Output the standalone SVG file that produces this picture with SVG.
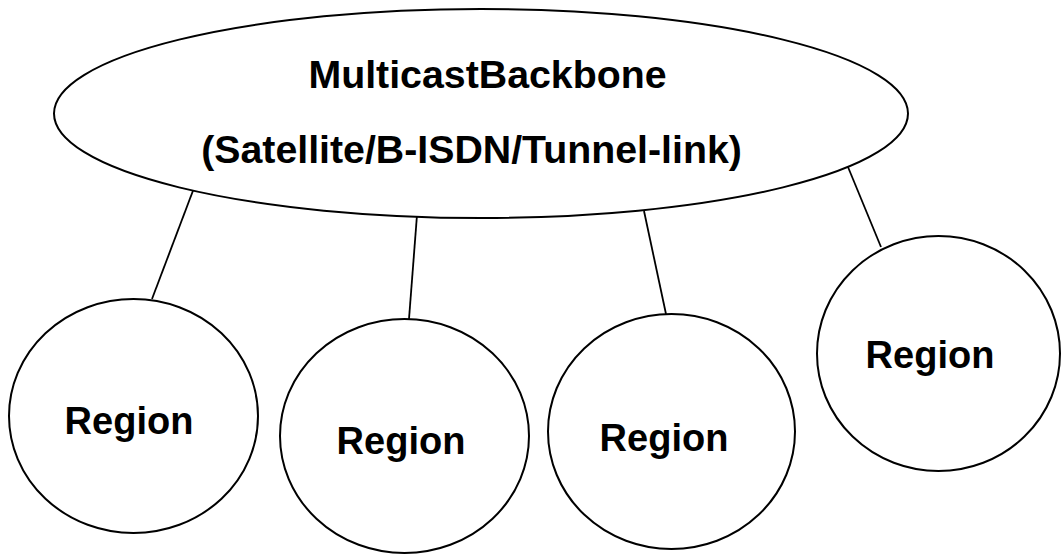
<svg xmlns="http://www.w3.org/2000/svg" width="1061" height="554" viewBox="0 0 1061 554">
<style>
.shape{fill:#fff;stroke:#000;stroke-width:2}
.conn{stroke:#000;stroke-width:1.8;fill:none}
.lbl{font-family:"Liberation Sans",Arial,sans-serif;font-weight:bold;font-size:38px;fill:#000;text-anchor:middle}
.big{font-size:39.3px}
</style>
<rect width="1061" height="554" fill="#fff"/>
<g id="connectors">
<line class="conn" x1="194" y1="188" x2="152" y2="299"/>
<line class="conn" x1="417" y1="215" x2="409" y2="319"/>
<line class="conn" x1="644" y1="211" x2="666" y2="314"/>
<line class="conn" x1="848" y1="167" x2="881" y2="247"/>
</g>
<g id="backbone">
<ellipse class="shape" cx="481" cy="113.5" rx="427" ry="104.5"/>
<text class="lbl big" x="487.5" y="88">MulticastBackbone</text>
<text class="lbl big" x="471.5" y="163">(Satellite/B-ISDN/Tunnel-link)</text>
</g>
<g id="region1">
<ellipse class="shape" cx="133.5" cy="416" rx="124.5" ry="117"/>
<text class="lbl" x="129" y="434">Region</text>
</g>
<g id="region2">
<ellipse class="shape" cx="404.5" cy="436" rx="124.5" ry="117"/>
<text class="lbl" x="401" y="454">Region</text>
</g>
<g id="region3">
<ellipse class="shape" cx="671.5" cy="431.5" rx="123.5" ry="117.5"/>
<text class="lbl" x="664" y="451">Region</text>
</g>
<g id="region4">
<ellipse class="shape" cx="938.5" cy="353.5" rx="121.5" ry="117.5"/>
<text class="lbl" x="930" y="368">Region</text>
</g>
</svg>
